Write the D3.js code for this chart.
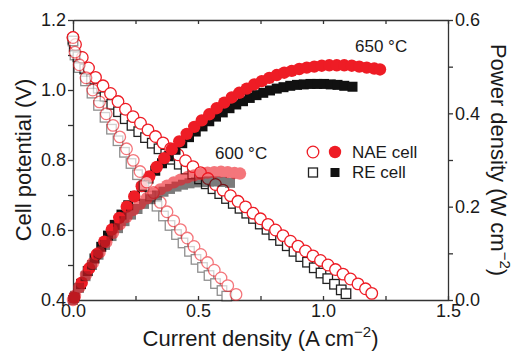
<!DOCTYPE html>
<html>
<head>
<meta charset="utf-8">
<script src="https://cdnjs.cloudflare.com/ajax/libs/d3/7.8.5/d3.min.js"></script>
<style>
  body { margin: 0; background: #fff; }
  svg { font-family: "Liberation Sans", Arial, sans-serif; }
  .axis path, .axis line { stroke: #333; stroke-width: 1.3; }
  .axis text { fill: #1a1a1a; font-size: 18px; font-family: "Liberation Sans", Arial, sans-serif; }
</style>
</head>
<body>
<div id="chart"></div>
<script>
// ---- data ----
// 650 °C, NAE cell
const currentNae650V = [0.000,0.010,0.037,0.062,0.090,0.120,0.150,0.180,0.210,0.240,0.270,0.300,0.330,0.360,0.390,0.420,0.450,0.480,0.510,0.540,0.570,0.600,0.630,0.660,0.690,0.720,0.750,0.780,0.810,0.840,0.870,0.900,0.930,0.960,0.990,1.020,1.050,1.080,1.110,1.140,1.170,1.195];
const voltageNae650 = [1.150,1.130,1.093,1.063,1.036,1.012,0.990,0.967,0.945,0.924,0.905,0.886,0.867,0.849,0.832,0.815,0.798,0.781,0.764,0.747,0.730,0.714,0.698,0.682,0.666,0.648,0.632,0.616,0.600,0.584,0.568,0.554,0.540,0.526,0.513,0.500,0.487,0.474,0.460,0.446,0.432,0.419];
const currentNae650P = [0.005,0.035,0.065,0.095,0.125,0.155,0.185,0.215,0.245,0.275,0.305,0.335,0.365,0.395,0.425,0.455,0.485,0.515,0.545,0.575,0.605,0.635,0.665,0.695,0.725,0.755,0.785,0.815,0.845,0.875,0.905,0.935,0.965,0.995,1.025,1.055,1.085,1.115,1.145,1.175,1.205,1.228];
const powerNae650 = [0.005,0.037,0.068,0.098,0.125,0.151,0.176,0.200,0.222,0.244,0.265,0.285,0.304,0.323,0.340,0.356,0.371,0.385,0.398,0.411,0.423,0.434,0.444,0.453,0.462,0.469,0.476,0.482,0.487,0.491,0.495,0.498,0.500,0.502,0.503,0.503,0.503,0.502,0.500,0.498,0.496,0.494];

// 650 °C, RE cell
const currentRe650V = [0.000,0.005,0.020,0.047,0.074,0.101,0.128,0.155,0.182,0.209,0.236,0.263,0.290,0.317,0.344,0.371,0.398,0.425,0.452,0.479,0.506,0.533,0.560,0.587,0.614,0.641,0.668,0.695,0.722,0.749,0.776,0.803,0.830,0.857,0.884,0.911,0.938,0.965,0.992,1.019,1.046,1.073,1.092];
const voltageRe650 = [1.145,1.125,1.095,1.060,1.031,1.005,0.981,0.959,0.938,0.918,0.899,0.881,0.864,0.848,0.832,0.817,0.802,0.788,0.774,0.760,0.746,0.732,0.718,0.704,0.690,0.676,0.662,0.648,0.633,0.617,0.602,0.586,0.570,0.555,0.539,0.524,0.508,0.492,0.477,0.461,0.445,0.429,0.418];
const currentRe650P = [0.005,0.032,0.059,0.086,0.113,0.140,0.167,0.194,0.221,0.248,0.275,0.302,0.329,0.356,0.383,0.410,0.437,0.464,0.491,0.518,0.545,0.572,0.599,0.626,0.653,0.680,0.707,0.734,0.761,0.788,0.815,0.842,0.869,0.896,0.923,0.950,0.977,1.004,1.031,1.058,1.085,1.118];
const powerRe650 = [0.005,0.034,0.062,0.089,0.114,0.138,0.161,0.183,0.203,0.223,0.242,0.260,0.277,0.293,0.308,0.322,0.336,0.349,0.361,0.372,0.383,0.393,0.402,0.411,0.419,0.426,0.433,0.439,0.444,0.449,0.453,0.456,0.459,0.461,0.462,0.463,0.463,0.463,0.462,0.461,0.459,0.457];

// 600 °C, NAE cell
const currentNae600V = [0.000,0.008,0.025,0.052,0.079,0.106,0.133,0.160,0.187,0.214,0.241,0.268,0.295,0.322,0.349,0.376,0.403,0.430,0.457,0.484,0.511,0.538,0.565,0.592,0.619,0.652];
const voltageNae600 = [1.150,1.108,1.072,1.035,1.000,0.966,0.932,0.899,0.866,0.832,0.799,0.767,0.737,0.707,0.679,0.652,0.626,0.601,0.577,0.553,0.530,0.507,0.485,0.463,0.441,0.416];
const currentNae600P = [0.000,0.008,0.025,0.052,0.079,0.106,0.133,0.160,0.187,0.214,0.241,0.268,0.295,0.322,0.349,0.376,0.403,0.430,0.457,0.484,0.511,0.538,0.565,0.592,0.619,0.646,0.668];
const powerNae600 = [0.000,0.009,0.027,0.054,0.079,0.102,0.124,0.144,0.162,0.178,0.193,0.206,0.218,0.228,0.237,0.245,0.252,0.258,0.263,0.267,0.270,0.273,0.274,0.275,0.274,0.272,0.271];

// 600 °C, RE cell
const currentRe600V = [0.000,0.008,0.024,0.050,0.076,0.102,0.128,0.154,0.180,0.206,0.232,0.258,0.284,0.310,0.336,0.362,0.388,0.414,0.440,0.466,0.492,0.518,0.544,0.570,0.596,0.615];
const voltageRe600 = [1.140,1.100,1.064,1.026,0.991,0.956,0.922,0.888,0.855,0.822,0.790,0.758,0.727,0.697,0.668,0.640,0.613,0.587,0.563,0.539,0.516,0.493,0.470,0.447,0.427,0.411];
const currentRe600P = [0.000,0.008,0.024,0.050,0.076,0.102,0.128,0.154,0.180,0.206,0.232,0.258,0.284,0.310,0.336,0.362,0.388,0.414,0.440,0.466,0.492,0.518,0.544,0.570,0.596,0.628];
const powerRe600 = [0.000,0.009,0.026,0.051,0.075,0.097,0.118,0.137,0.154,0.169,0.183,0.195,0.206,0.216,0.224,0.232,0.238,0.243,0.247,0.250,0.252,0.253,0.254,0.254,0.253,0.251];

// axis ticks
const xTicks = [0, 0.25, 0.5, 0.75, 1.0, 1.25, 1.5];
const xLabels = [0, 0.5, 1.0, 1.5];
const yLeftTicks = [0.4, 0.5, 0.6, 0.7, 0.8, 0.9, 1.0, 1.1, 1.2];
const yLeftLabels = [0.4, 0.6, 0.8, 1.0, 1.2];
const yRightTicks = [0, 0.1, 0.2, 0.3, 0.4, 0.5, 0.6];
const yRightLabels = [0, 0.2, 0.4, 0.6];

// ---- layout ----
const width = 517, height = 352;
const margin = { top: 20, right: 69, bottom: 52, left: 73 };
const plotW = width - margin.left - margin.right;
const plotH = height - margin.top - margin.bottom;

const red = "#ee1c25";

const svg = d3.select("#chart").append("svg")
  .attr("width", width)
  .attr("height", height);

const x = d3.scaleLinear().domain([0, 1.5]).range([margin.left, margin.left + plotW]);
const yV = d3.scaleLinear().domain([0.4, 1.2]).range([margin.top + plotH, margin.top]);
const yP = d3.scaleLinear().domain([0, 0.6]).range([margin.top + plotH, margin.top]);

const fmt = d3.format(".1f");
const labelIf = list => d => list.some(v => Math.abs(v - d) < 1e-9) ? fmt(d) : "";

// axes: left/right ticks point out, top/bottom point in
svg.append("g").attr("class", "axis")
  .attr("transform", `translate(0,${margin.top + plotH})`)
  .call(d3.axisBottom(x).tickValues(xTicks).tickSizeInner(-4).tickSizeOuter(0).tickPadding(4).tickFormat(labelIf(xLabels)));

svg.append("g").attr("class", "axis")
  .attr("transform", `translate(0,${margin.top})`)
  .call(d3.axisTop(x).tickValues(xTicks).tickSizeInner(-4).tickSizeOuter(0).tickFormat(""));

svg.append("g").attr("class", "axis")
  .attr("transform", `translate(${margin.left},0)`)
  .call(d3.axisLeft(yV).tickValues(yLeftTicks).tickSizeInner(5).tickSizeOuter(0).tickPadding(2).tickFormat(labelIf(yLeftLabels)));

svg.append("g").attr("class", "axis")
  .attr("transform", `translate(${margin.left + plotW},0)`)
  .call(d3.axisRight(yP).tickValues(yRightTicks).tickSizeInner(5).tickSizeOuter(0).tickPadding(2).tickFormat(labelIf(yRightLabels)));

// ---- markers ----
function circles(cur, vals, yScale, opts) {
  svg.append("g").attr("opacity", opts.opacity || 1)
    .selectAll("circle")
    .data(d3.zip(cur, vals))
    .enter().append("circle")
    .attr("cx", d => x(d[0]))
    .attr("cy", d => yScale(d[1]))
    .attr("r", opts.r)
    .attr("fill", opts.fill)
    .attr("stroke", opts.stroke || "none")
    .attr("stroke-width", opts.sw || 0);
}

function squares(cur, vals, yScale, opts) {
  svg.append("g").attr("opacity", opts.opacity || 1)
    .selectAll("rect")
    .data(d3.zip(cur, vals))
    .enter().append("rect")
    .attr("x", d => x(d[0]) - opts.s / 2)
    .attr("y", d => yScale(d[1]) - opts.s / 2)
    .attr("width", opts.s)
    .attr("height", opts.s)
    .attr("fill", opts.fill)
    .attr("stroke", opts.stroke || "none")
    .attr("stroke-width", opts.sw || 0);
}

// 650 °C
squares(currentRe650V, voltageRe650, yV, { s: 9.5, fill: "#fff", stroke: "#222", sw: 1.3 });
circles(currentNae650V, voltageNae650, yV, { r: 5.8, fill: "#fff", stroke: red, sw: 1.3 });
squares(currentRe650P, powerRe650, yP, { s: 10, fill: "#111" });
circles(currentNae650P, powerNae650, yP, { r: 6.2, fill: red });

// 600 °C (lighter)
squares(currentRe600V, voltageRe600, yV, { s: 9.5, fill: "#fff", stroke: "#222", sw: 1.3, opacity: 0.5 });
circles(currentNae600V, voltageNae600, yV, { r: 5.8, fill: "#fff", stroke: red, sw: 1.3, opacity: 0.6 });
squares(currentRe600P, powerRe600, yP, { s: 10, fill: "#111", opacity: 0.55 });
circles(currentNae600P, powerNae600, yP, { r: 6.2, fill: red, opacity: 0.6 });

// ---- annotations ----
svg.append("text").attr("x", 355).attr("y", 52).attr("font-size", 17).attr("fill", "#1a1a1a").text("650 °C");
svg.append("text").attr("x", 215).attr("y", 159).attr("font-size", 17).attr("fill", "#1a1a1a").text("600 °C");

// legend
const legend = svg.append("g");
legend.append("circle").attr("cx", 313).attr("cy", 152).attr("r", 5.8).attr("fill", "#fff").attr("stroke", red).attr("stroke-width", 1.3);
legend.append("circle").attr("cx", 335).attr("cy", 152).attr("r", 6.2).attr("fill", red);
legend.append("rect").attr("x", 313 - 4.5).attr("y", 172.5 - 4.5).attr("width", 9).attr("height", 9).attr("fill", "#fff").attr("stroke", "#222").attr("stroke-width", 1.3);
legend.append("rect").attr("x", 335 - 4.5).attr("y", 172.5 - 4.5).attr("width", 9).attr("height", 9).attr("fill", "#111");
legend.append("text").attr("x", 352).attr("y", 158).attr("font-size", 17).attr("fill", "#1a1a1a").text("NAE cell");
legend.append("text").attr("x", 352).attr("y", 178).attr("font-size", 17).attr("fill", "#1a1a1a").text("RE cell");

// ---- axis titles ----
const xTitle = svg.append("text")
  .attr("x", margin.left + plotW / 2).attr("y", 346)
  .attr("text-anchor", "middle").attr("font-size", 22).attr("fill", "#1a1a1a");
xTitle.append("tspan").text("Current density (A cm");
xTitle.append("tspan").attr("font-size", 15).attr("dy", -9).text("\u22122");
xTitle.append("tspan").attr("dy", 9).text(")");

svg.append("text")
  .attr("transform", `translate(31,${margin.top + plotH / 2}) rotate(-90)`)
  .attr("text-anchor", "middle").attr("font-size", 22).attr("fill", "#1a1a1a")
  .text("Cell potential (V)");

const yRightTitle = svg.append("text")
  .attr("transform", `translate(491,${margin.top + plotH / 2}) rotate(90)`)
  .attr("text-anchor", "middle").attr("font-size", 22).attr("fill", "#1a1a1a");
yRightTitle.append("tspan").text("Power density (W cm");
yRightTitle.append("tspan").attr("font-size", 15).attr("dy", -9).text("\u22122");
yRightTitle.append("tspan").attr("dy", 9).text(")");
</script>
</body>
</html>
